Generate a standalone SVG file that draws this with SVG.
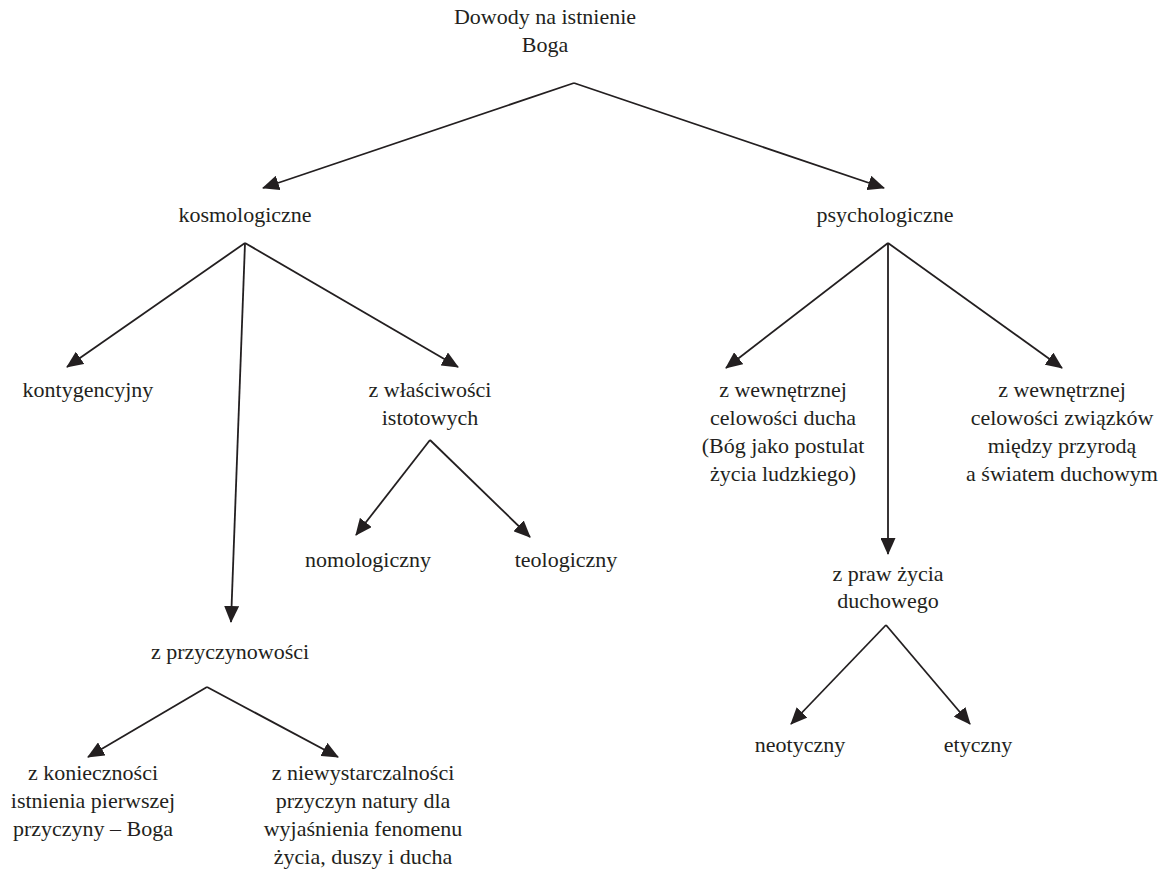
<svg xmlns="http://www.w3.org/2000/svg" width="1164" height="872" viewBox="0 0 1164 872">
<style>
text{font-family:"Liberation Serif","Times New Roman",serif;font-size:22px;fill:#231f20;text-anchor:middle}
.c line{stroke:#231f20;stroke-width:1.8;fill:none}
</style>
<defs>
<marker id="ah" markerUnits="userSpaceOnUse" markerWidth="17" markerHeight="15" refX="16" refY="7.5" orient="auto">
<path d="M0,0 L17,7.5 L0,15 z" fill="#231f20"/>
</marker>
</defs>
<rect width="1164" height="872" fill="#fff"/>
<g class="c" id="connectors">
<line x1="574" y1="83" x2="263" y2="188" marker-end="url(#ah)"/>
<line x1="574" y1="83" x2="884" y2="188" marker-end="url(#ah)"/>
<line x1="245" y1="243" x2="67" y2="367" marker-end="url(#ah)"/>
<line x1="245" y1="243" x2="458" y2="367" marker-end="url(#ah)"/>
<line x1="245" y1="243" x2="231" y2="622" marker-end="url(#ah)"/>
<line x1="888" y1="243" x2="726" y2="368" marker-end="url(#ah)"/>
<line x1="888" y1="243" x2="1062" y2="368" marker-end="url(#ah)"/>
<line x1="888" y1="243" x2="888" y2="554" marker-end="url(#ah)"/>
<line x1="430" y1="440" x2="356" y2="535" marker-end="url(#ah)"/>
<line x1="430" y1="440" x2="530" y2="537" marker-end="url(#ah)"/>
<line x1="207" y1="687" x2="88" y2="757" marker-end="url(#ah)"/>
<line x1="207" y1="687" x2="338" y2="757" marker-end="url(#ah)"/>
<line x1="886" y1="625" x2="791" y2="724" marker-end="url(#ah)"/>
<line x1="886" y1="625" x2="970" y2="724" marker-end="url(#ah)"/>
</g>
<g id="root"><text x="545" y="24">Dowody na istnienie</text><text x="545" y="52">Boga</text></g>
<g id="kosmologiczne"><text x="245" y="222">kosmologiczne</text></g>
<g id="psychologiczne"><text x="885" y="222">psychologiczne</text></g>
<g id="kontygencyjny"><text x="88" y="397">kontygencyjny</text></g>
<g id="wlasciwosci"><text x="430" y="397">z właściwości</text><text x="430" y="425">istotowych</text></g>
<g id="nomologiczny"><text x="368" y="567">nomologiczny</text></g>
<g id="teologiczny"><text x="566" y="567">teologiczny</text></g>
<g id="przyczynowosci"><text x="230" y="659">z przyczynowości</text></g>
<g id="koniecznosci"><text x="93" y="780">z konieczności</text><text x="93" y="808">istnienia pierwszej</text><text x="93" y="836">przyczyny – Boga</text></g>
<g id="niewystarczalnosci"><text x="363" y="780">z niewystarczalności</text><text x="363" y="808">przyczyn natury dla</text><text x="363" y="836">wyjaśnienia fenomenu</text><text x="363" y="864">życia, duszy i ducha</text></g>
<g id="celowosc_ducha"><text x="783" y="397">z wewnętrznej</text><text x="783" y="425">celowości ducha</text><text x="783" y="453">(Bóg jako postulat</text><text x="783" y="481">życia ludzkiego)</text></g>
<g id="celowosc_zwiazkow"><text x="1062" y="397">z wewnętrznej</text><text x="1062" y="425">celowości związków</text><text x="1062" y="453">między przyrodą</text><text x="1062" y="481">a światem duchowym</text></g>
<g id="prawa_zycia"><text x="888" y="581">z praw życia</text><text x="888" y="608">duchowego</text></g>
<g id="neotyczny"><text x="800" y="752">neotyczny</text></g>
<g id="etyczny"><text x="978" y="752">etyczny</text></g>
</svg>
